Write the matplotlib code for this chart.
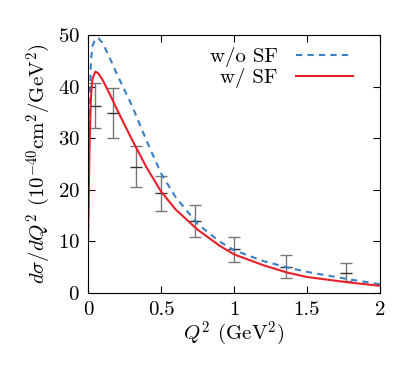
import matplotlib
matplotlib.use("Agg")
import matplotlib.pyplot as plt

plt.rcParams["font.family"] = "serif"
plt.rcParams["font.serif"] = ["cmr10"]
plt.rcParams["mathtext.fontset"] = "cm"
plt.rcParams["axes.formatter.use_mathtext"] = True
plt.rcParams["axes.unicode_minus"] = False
plt.rcParams["font.size"] = 15

# model curves
q2 = [0, 0.01, 0.02, 0.03, 0.05, 0.07, 0.1, 0.15, 0.2, 0.3, 0.4, 0.5,
      0.6, 0.75, 0.9, 1.0, 1.2, 1.36, 1.5, 1.8, 2.0]
wo_sf = [10, 35, 45, 47.8, 49.3, 49.4, 48.5, 45.5, 42.3, 36.4, 29.6, 23.2,
         18.6, 13.4, 10.0, 8.3, 6.2, 5.0, 4.1, 2.6, 1.7]
w_sf = [10, 28, 38, 41.5, 42.9, 42.6, 41.3, 38.5, 35.5, 29.8, 24.4, 19.7,
        16.2, 12.3, 9.2, 7.5, 5.4, 4.0, 3.1, 2.0, 1.4]

# data points
data_x = [0.048, 0.173, 0.33, 0.50, 0.73, 1.00, 1.36, 1.77]
data_y = [36.2, 34.9, 24.4, 19.4, 14.0, 8.5, 5.1, 3.9]
err_lo = [4.2, 4.9, 3.9, 3.5, 3.1, 2.5, 2.2, 1.6]
err_hi = [4.5, 4.8, 4.0, 3.3, 3.1, 2.4, 2.3, 1.9]

fig = plt.figure(figsize=(3.99, 3.73), dpi=100)
ax = fig.add_axes([0.2206, 0.2145, 0.952 - 0.2206, 0.906 - 0.2145])

ax.errorbar(data_x, data_y, yerr=[err_lo, err_hi], fmt="none",
            ecolor="#777777", elinewidth=1.0, capsize=4, capthick=1.0)
ax.plot(data_x, data_y, linestyle="none", marker="_", markersize=9,
        markeredgewidth=1.0, color="#333333")

ax.plot(q2, wo_sf, "--", color="#3a80c6", lw=1.5, dashes=(3, 2.5), label="w/o SF")
ax.plot(q2, w_sf, "-", color="#e8202a", lw=1.5, label="w/ SF")

ax.set_xlim(0, 2)
ax.set_ylim(0, 50)
ax.set_xticks([0, 0.5, 1, 1.5, 2])
ax.set_xticklabels(["0", "0.5", "1", "1.5", "2"])
ax.set_yticks([0, 10, 20, 30, 40, 50])
ax.tick_params(direction="in", top=True, right=True, length=5, width=0.8, pad=6)

ax.set_xlabel(r"$Q^2$ (GeV$^2$)", labelpad=0)
ax.set_ylabel(r"$d\sigma/dQ^2$ $(10^{-40}\mathrm{cm}^2/\mathrm{GeV}^2)$", labelpad=3)

ax.legend(loc="upper right", bbox_to_anchor=(0.935, 0.985), frameon=False,
          markerfirst=False, handlelength=2.7, borderaxespad=0.1,
          labelspacing=0.05, handletextpad=0.9, borderpad=0.3)

fig.savefig("out.png", dpi=100)
